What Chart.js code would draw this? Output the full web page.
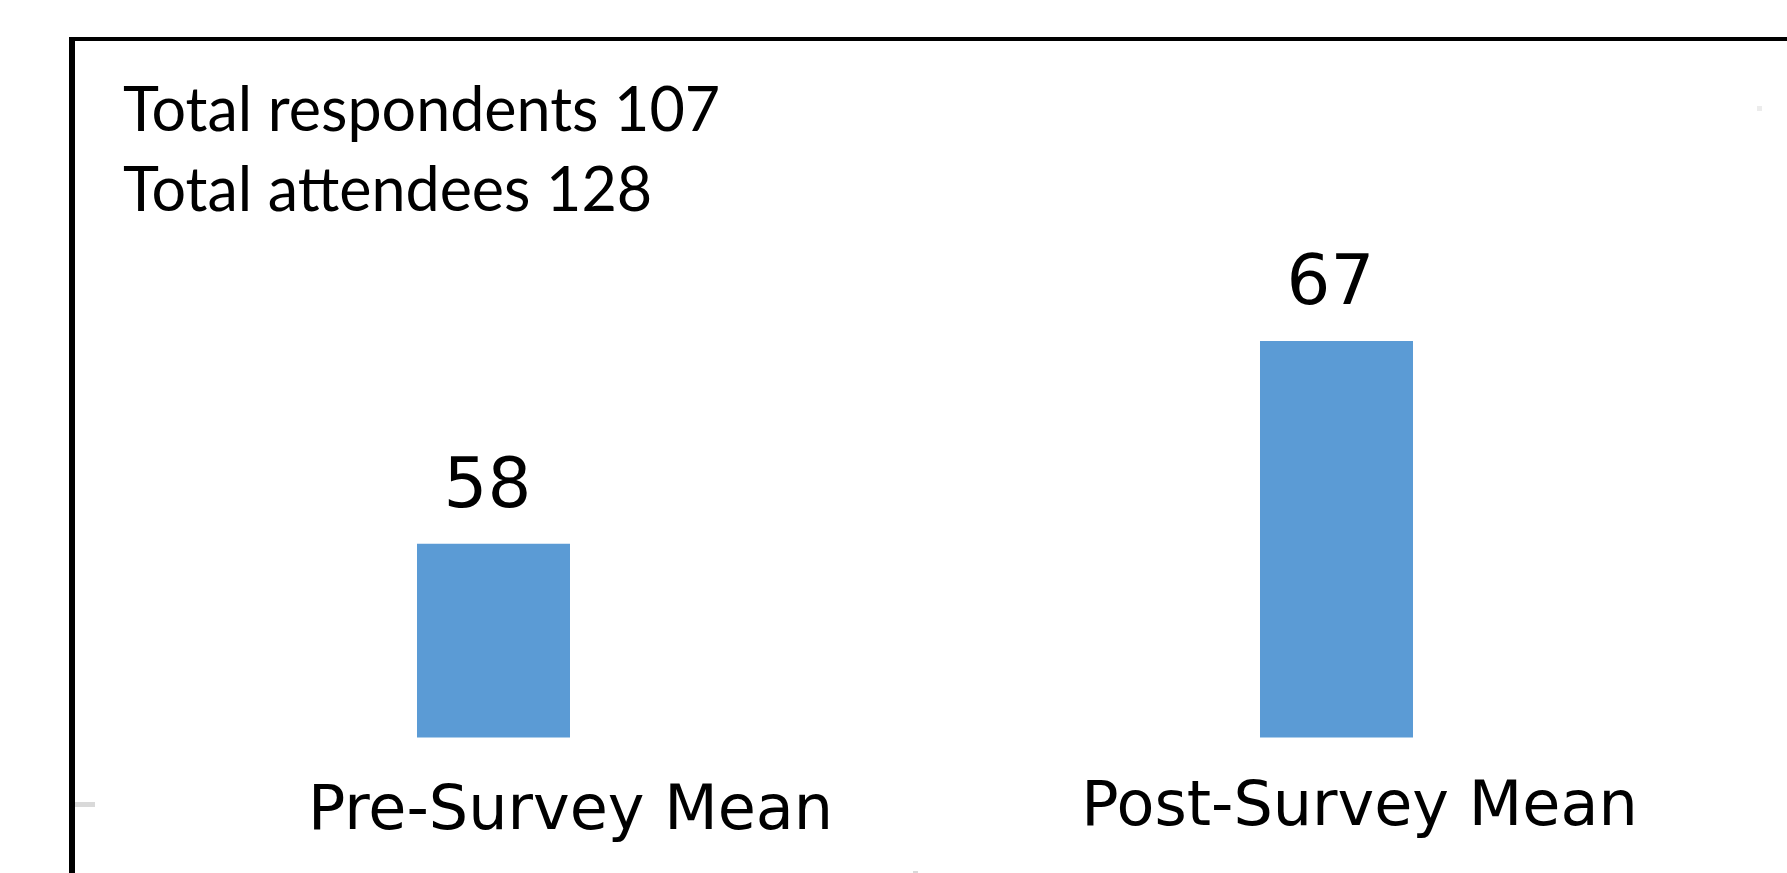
<!DOCTYPE html>
<html>
<head>
<meta charset="utf-8">
<script src="https://cdn.jsdelivr.net/npm/chart.js@4"></script>
<style>
    html, body { margin: 0; padding: 0; background: #fff; overflow: hidden; }
    #wrap { position: relative; width: 1787px; height: 873px; }
    #frame {
        position: absolute; left: 69px; top: 37px; right: -20px; bottom: -20px;
        border-left: 6px solid #000; border-top: 4px solid #000;
    }
    .mark { position: absolute; background: #d9d9d9; }
</style>
</head>
<body>
<div id="wrap">
    <canvas id="myChart" width="1787" height="873"></canvas>
    <div id="frame"></div>
    <div class="mark" style="left:75px; top:802px; width:20px; height:5px;"></div>
    <div class="mark" style="left:1757px; top:106px; width:5px; height:5px; background:#ececec;"></div>
    <div class="mark" style="left:913px; top:871px; width:5px; height:2px;"></div>
</div>
<script>
// Dados do gráfico
const categorias = ['Pre-Survey Mean', 'Post-Survey Mean'];
const medias = [58, 67];
const notas = ['Total respondents 107', 'Total attendees 128'];

// Deslocamento horizontal dos rótulos das categorias
const deslocRotulo = [77, 23];

// Escreve os valores e os rótulos das categorias
const rotulosPlugin = {
    id: 'rotulos',
    afterDatasetsDraw(chart) {
        const ctx = chart.ctx;
        const meta = chart.getDatasetMeta(0);
        ctx.save();
        ctx.fillStyle = '#000';
        ctx.textAlign = 'center';
        ctx.textBaseline = 'alphabetic';

        // valor acima de cada barra
        ctx.font = '69px "DejaVu Sans"';
        meta.data.forEach((bar, i) => {
            ctx.fillText(String(chart.data.datasets[0].data[i]), bar.x - 6, bar.y - 37);
        });

        // nome da categoria abaixo
        ctx.font = '62px "DejaVu Sans"';
        meta.data.forEach((bar, i) => {
            ctx.fillText(chart.data.labels[i], bar.x + deslocRotulo[i], chart.chartArea.bottom + 91 - i * 4);
        });

        // totais no canto superior
        ctx.textAlign = 'left';
        ctx.font = '61px Lato';
        notas.forEach((t, i) => {
            ctx.fillText(t, 123, 131 + i * 80);
        });
        ctx.restore();
    }
};

const ctx = document.getElementById('myChart').getContext('2d');
const myChart = new Chart(ctx, {
    type: 'bar',
    data: {
        labels: categorias,
        datasets: [{
            data: medias,
            backgroundColor: '#5B9BD5',
            borderWidth: 0,
            categoryPercentage: 1,
            barPercentage: 0.1815
        }]
    },
    options: {
        responsive: false,
        animation: false,
        layout: {
            padding: { left: 72, right: 29, top: 79.5, bottom: 135.5 }
        },
        plugins: {
            legend: { display: false },
            tooltip: { enabled: false }
        },
        scales: {
            x: { display: false },
            y: { display: false, min: 49.4, max: 78.6 }
        }
    },
    plugins: [rotulosPlugin]
});
</script>
</body>
</html>
